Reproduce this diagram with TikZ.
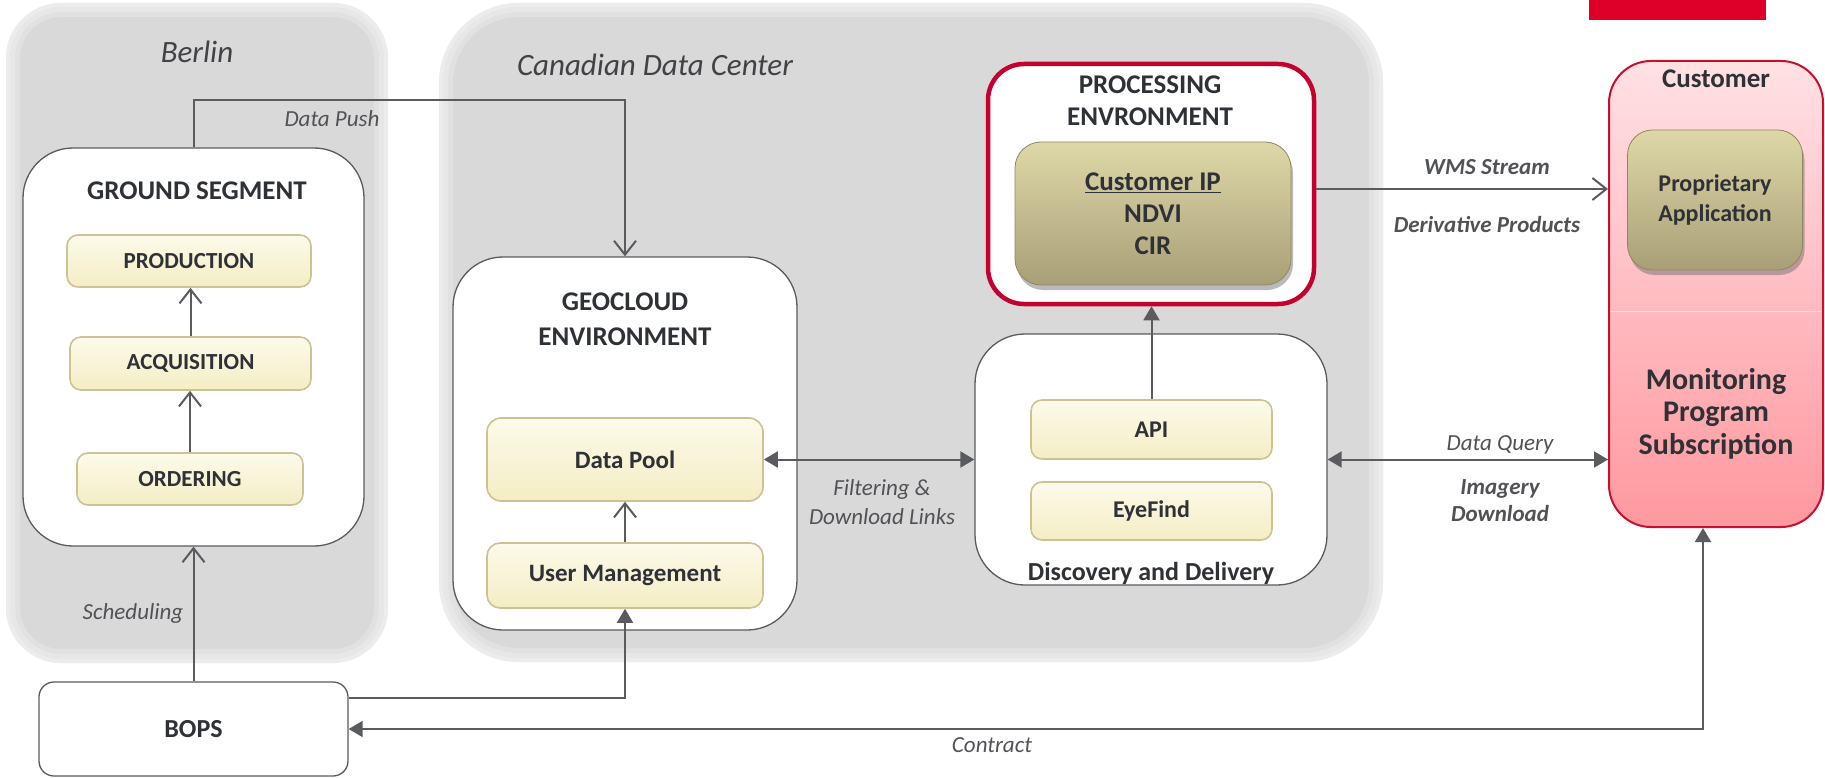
\documentclass[tikz,border=0pt]{standalone}
\usepackage{fontspec}
\setmainfont{Carlito}
\usetikzlibrary{arrows.meta,shadows}
\definecolor{ln}{HTML}{595B5E}
\definecolor{txt}{HTML}{2E3136}
\definecolor{lbl}{HTML}{505256}
\definecolor{panel}{HTML}{D9D9D9}
\definecolor{ytop}{HTML}{FCFAEB}
\definecolor{ybot}{HTML}{F4EDC4}
\definecolor{ybord}{HTML}{CCC394}
\definecolor{otop}{HTML}{DED8A8}
\definecolor{obot}{HTML}{A99F77}
\definecolor{obord}{HTML}{8F8762}
\definecolor{procred}{HTML}{C4002F}
\definecolor{ctop}{HTML}{FFE1E4}
\definecolor{cbot}{HTML}{FF989F}
\definecolor{cbord}{HTML}{C8102E}
\definecolor{topred}{HTML}{DF0029}
\begin{document}
\begin{tikzpicture}[x=1pt,y=-1pt,
  panelbox/.style={fill=panel, draw=none, inner sep=0pt, outer sep=0pt},
  whitebox/.style={draw=ln, line width=1.3pt, fill=white, rounded corners=50pt, inner sep=0pt},
  ybox/.style={draw=ybord, line width=1.6pt, top color=ytop, bottom color=ybot, rounded corners=11pt, inner sep=0pt, text=txt, font=\fontsize{23}{27}\selectfont\bfseries},
  obox/.style={draw=obord, line width=0.8pt, top color=otop, bottom color=obot, rounded corners=26pt, inner sep=0pt, text=txt, align=center, drop shadow={shadow xshift=2pt, shadow yshift=-5pt, opacity=0.45, fill=black!60}},
  conn/.style={draw=ln, line width=2pt},
  openarr/.style={-{Straight Barb[length=14pt,width=22pt]}},
  fillarr/.style={-{Triangle[length=14pt,width=16pt]}},
  bothfill/.style={{Triangle[length=14pt,width=16pt]}-{Triangle[length=14pt,width=16pt]}},
  place/.style={font=\fontsize{31}{36}\selectfont\itshape, text=lbl!80!black},
  elabel/.style={font=\fontsize{23}{29}\selectfont\itshape, text=lbl, align=center},
  blabel/.style={font=\fontsize{23}{27}\selectfont\bfseries\itshape, text=lbl, align=center},
  title/.style={font=\fontsize{27}{35}\selectfont\bfseries, text=txt, align=center},
]
\useasboundingbox (0,0) rectangle (1825,778);

% ---------- panels ----------
\node[panelbox, rounded corners=55pt, minimum width=382pt, minimum height=660pt] (berlin) at (197,333) {};
\begin{scope}
  \clip[rounded corners=55pt] (6,3) rectangle (388,663);
  \foreach \w in {28,18,8}{\draw[white, opacity=0.22, line width=\w pt, rounded corners=55pt] (6,3) rectangle (388,663);}
\end{scope}
\node[panelbox, rounded corners=80pt, minimum width=944pt, minimum height=659pt] (cdc) at (911,332.5) {};
\begin{scope}
  \clip[rounded corners=80pt] (439,3) rectangle (1383,662);
  \foreach \w in {28,18,8}{\draw[white, opacity=0.22, line width=\w pt, rounded corners=80pt] (439,3) rectangle (1383,662);}
\end{scope}
\node[place] (lberlin) at (197,52) {Berlin};
\node[place] (lcdc) at (655,65) {Canadian Data Center};

% ---------- top red tab ----------
\fill[topred] (1589,0) rectangle (1766,20);

% ---------- Berlin ----------
\node[whitebox, minimum width=341pt, minimum height=398pt] (gs) at (193.5,347) {};
\node[title] (tgs) at (197,191) {GROUND SEGMENT};
\node[ybox, minimum width=244pt, minimum height=52pt] (prod) at (189,261) {PRODUCTION};
\node[ybox, minimum width=241pt, minimum height=53pt] (acq) at (190.5,363.5) {ACQUISITION};
\node[ybox, minimum width=226pt, minimum height=52pt] (ord) at (190,479) {ORDERING};

\node[whitebox, rounded corners=15pt, minimum width=309pt, minimum height=94pt, font=\fontsize{26}{30}\selectfont\bfseries, text=txt] (bops) at (193.5,729) {BOPS};

% ---------- Canadian data center ----------
\node[whitebox, minimum width=344pt, minimum height=373pt] (geo) at (625,443.5) {};
\node[title] (tgeo) at (625,319.5) {GEOCLOUD\\ENVIRONMENT};
\node[ybox, minimum width=276pt, minimum height=83pt, rounded corners=14pt, font=\fontsize{25}{30}\selectfont\bfseries] (pool) at (625,459.5) {Data Pool};
\node[ybox, minimum width=276pt, minimum height=65pt, rounded corners=13pt, font=\fontsize{25}{30}\selectfont\bfseries] (um) at (625,575.5) {User Management};

\node[whitebox, minimum width=352pt, minimum height=251pt] (dd) at (1151,459.5) {};
\node[ybox, minimum width=241pt, minimum height=59pt, font=\fontsize{24}{28}\selectfont\bfseries] (api) at (1151.5,429.5) {API};
\node[ybox, minimum width=241pt, minimum height=58pt, font=\fontsize{24}{28}\selectfont\bfseries] (eye) at (1151.5,511) {EyeFind};
\node[font=\fontsize{26}{30}\selectfont\bfseries, text=txt] (tdd) at (1151,573) {Discovery and Delivery};

\node[draw=procred, line width=4.5pt, fill=white, rounded corners=36pt, minimum width=326pt, minimum height=240pt] (proc) at (1151,184) {};
\node[title, font=\fontsize{27}{32}\selectfont\bfseries] (tproc) at (1150,101) {PROCESSING\\ENVRONMENT};
\node[obox, minimum width=276pt, minimum height=143pt, font=\fontsize{27}{32}\selectfont\bfseries] (cip) at (1153,213.5) {\underline{Customer IP}\\NDVI\\CIR};

% ---------- customer ----------
\node[draw=cbord, line width=2pt, top color=ctop, bottom color=cbot, rounded corners=42pt, minimum width=214pt, minimum height=466pt] (cust) at (1716,294) {};
\draw[white, opacity=0.45, line width=1pt] (1610,311) -- (1822,311);
\node[title] (tcust) at (1716,79) {Customer};
\node[obox, minimum width=175pt, minimum height=140pt, rounded corners=25pt, font=\fontsize{24}{30}\selectfont\bfseries] (prop) at (1715,200) {Proprietary\\Application};
\node[font=\fontsize{30}{32.5}\selectfont\bfseries, text=txt, align=center] (mon) at (1716,413.5) {Monitoring\\Program\\Subscription};

% ---------- connectors ----------
\draw[conn, openarr] (ord.north) -- (ord.north |- acq.south);
\draw[conn, openarr] (acq.north) -- (acq.north |- prod.south);
\draw[conn, openarr] (bops.north) -- (bops.north |- gs.south);
\coordinate (dpk) at (400,100);
\draw[conn, openarr] (gs.north) |- (dpk) -| (geo.north);
\draw[conn, openarr] (um.north) -- (pool.south);
\draw[conn, fillarr] ([yshift=31pt]bops.east) -| (um.south);
\draw[conn, bothfill] ([xshift=-13pt]cust.south) |- (bops.east);
\draw[conn, bothfill] (pool.east) -- (dd.west |- pool.east);
\draw[conn, fillarr] (api.north) -- (api.north |- proc.south);
\draw[conn, openarr] ([yshift=-5pt]proc.east) -- ([yshift=-5pt]proc.east -| cust.west);
\draw[conn, bothfill] (dd.east) -- (dd.east -| cust.west);

% ---------- connector labels ----------
\node[elabel] (ldp) at (332,119) {Data Push};
\node[elabel] (lsch) at (133,613) {Scheduling};
\node[elabel] (lfil) at (882,502.5) {Filtering \&\\Download Links};
\node[elabel] (lcon) at (992,745) {Contract};
\node[blabel] (lwms) at (1487,167) {WMS Stream};
\node[blabel] (lder) at (1487,225) {Derivative Products};
\node[elabel] (ldq) at (1500,445) {Data Query};
\node[blabel] (limg) at (1500,500.5) {Imagery\\Download};
\end{tikzpicture}
\end{document}
